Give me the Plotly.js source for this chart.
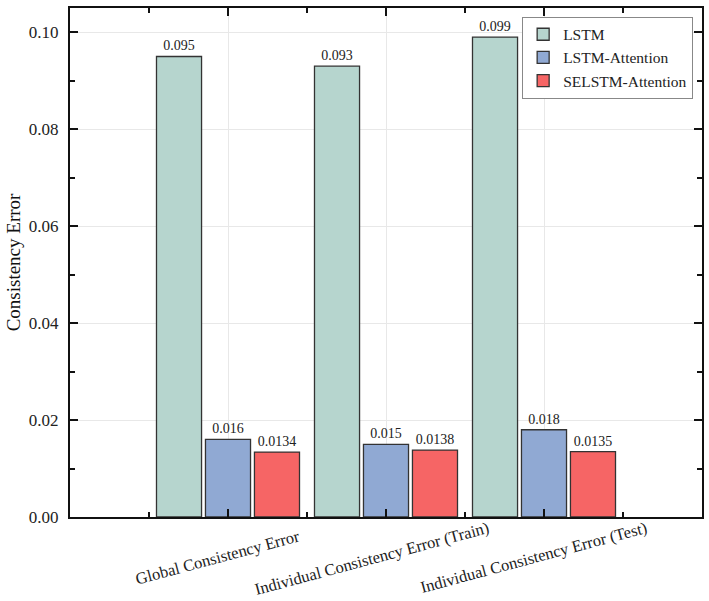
<!DOCTYPE html>
<html>
<head>
<meta charset="utf-8">
<script src="https://cdn.plot.ly/plotly-3.0.1.min.js"></script>
<style>
  html, body { margin: 0; padding: 0; background: #fff; }
  #chart { width: 709px; height: 601px; }
</style>
</head>
<body>
<div id="chart"></div>
<script>
const categories = ["Global Consistency Error", "Individual Consistency Error (Train)", "Individual Consistency Error (Test)"];
const catPos = [0, 1, 2];
const lstm = [0.095, 0.093, 0.099];
const lstmAtt = [0.016, 0.015, 0.018];
const selstmAtt = [0.0134, 0.0138, 0.0135];
const seriesNames = ["LSTM", "LSTM-Attention", "SELSTM-Attention"];
const colors = ["#b6d5ce", "#90a9d3", "#f66565"];

const font = "Liberation Serif, Times New Roman, serif";

// rotated labels are anchored at their end; pad the short one so all sit centred
const tickText = categories.map(c => c + "\u00a0".repeat(Math.max(0, 32 - c.length)));

const traces = [lstm, lstmAtt, selstmAtt].map((vals, i) => ({
    type: "bar",
    name: seriesNames[i],
    x: catPos,
    y: vals,
    text: vals.map(v => String(v)),
    textposition: "outside",
    cliponaxis: false,
    textfont: {family: font, size: 14, color: "#222"},
    marker: {color: colors[i], line: {color: "#333", width: 1.3}},
    hoverinfo: "none"
}));

const layout = {
    width: 709,
    height: 601,
    margin: {l: 70, r: 7, t: 8, b: 84},
    paper_bgcolor: "#fff",
    plot_bgcolor: "#fff",
    font: {family: font, color: "#222"},
    barmode: "group",
    bargap: 0.07,
    bargroupgap: 0.08,
    showlegend: true,
    legend: {
        x: 0.986, y: 0.983, xanchor: "right", yanchor: "top",
        bgcolor: "#fff", bordercolor: "#888", borderwidth: 1,
        font: {family: font, size: 15.5, color: "#222"},
        tracegroupgap: 0, itemwidth: 30
    },
    xaxis: {
        range: [-1, 3],
        tickmode: "array",
        tickvals: catPos,
        ticktext: tickText,
        tickangle: -15,
        ticklabelshift: 102,
        ticklabelstandoff: -6,
        tickfont: {family: font, size: 16.5, color: "#222"},
        showline: true, linecolor: "#111", linewidth: 2, mirror: "allticks",
        ticks: "inside", ticklen: 8, tickwidth: 2, tickcolor: "#111",
        showgrid: true, gridcolor: "#e8e8e8", gridwidth: 1,
        zeroline: false,
        minor: {tickmode: "linear", tick0: 0.5, dtick: 1, ticks: "inside", ticklen: 5, tickwidth: 2, tickcolor: "#111", showgrid: false}
    },
    yaxis: {
        range: [0, 0.105],
        tickmode: "linear", tick0: 0, dtick: 0.02,
        tickformat: ".2f",
        ticklabelstandoff: 6,
        tickfont: {family: font, size: 17, color: "#222"},
        title: {text: "Consistency Error", font: {family: font, size: 19, color: "#111"}, standoff: 3},
        showline: true, linecolor: "#111", linewidth: 2, mirror: "allticks",
        ticks: "inside", ticklen: 8, tickwidth: 2, tickcolor: "#111",
        showgrid: true, gridcolor: "#e8e8e8", gridwidth: 1,
        zeroline: false,
        minor: {dtick: 0.01, ticks: "inside", ticklen: 5, tickwidth: 2, tickcolor: "#111", showgrid: false}
    }
};

Plotly.newPlot("chart", traces, layout, {displayModeBar: false, staticPlot: true});
</script>
</body>
</html>
